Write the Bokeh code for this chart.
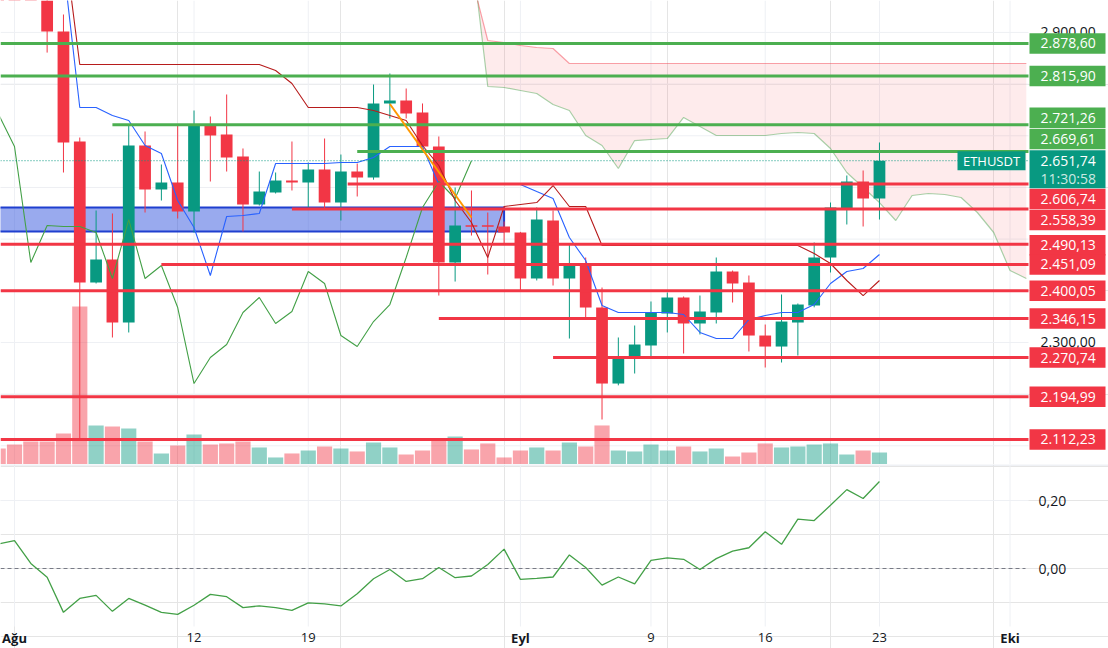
import pandas as pd
from bokeh.plotting import figure
from bokeh.layouts import column
from bokeh.models import ColumnDataSource, Range1d
from bokeh.core.properties import value
from bokeh.embed import file_html
from bokeh.resources import INLINE

# ------------------------------------------------------------------ data
dates = pd.date_range("2024-07-31", "2024-09-23", freq="D")

open_ = [3280.0, 3232.0, 3203.0, 2988.0, 2901.8, 2688.9, 2416.0, 2460.5, 2338.6, 2681.2,
         2596.0, 2609.6, 2553.4, 2721.8, 2702.5, 2659.9, 2567.0, 2590.2, 2613.4, 2609.6,
         2634.7, 2570.8, 2630.8, 2619.2, 2762.5, 2768.3, 2745.0, 2679.2, 2454.7, 2526.3,
         2526.3, 2524.4, 2512.8, 2423.8, 2536.0, 2423.8, 2448.9, 2367.6, 2220.5, 2270.9,
         2294.1, 2356.0, 2387.0, 2336.7, 2358.0, 2437.3, 2416.0, 2313.4, 2292.1, 2338.6,
         2371.5, 2464.4, 2559.2, 2611.5, 2578.6]
high = [3350.0, 3248.0, 3218.0, 3018.0, 2934.7, 2696.6, 2555.4, 2549.6, 2721.8, 2708.3,
        2644.4, 2721.8, 2748.9, 2737.3, 2779.9, 2675.4, 2630.8, 2628.9, 2688.9, 2648.3,
        2694.7, 2663.7, 2646.3, 2799.2, 2820.5, 2791.5, 2762.5, 2698.6, 2599.9, 2594.1,
        2551.5, 2534.1, 2514.0, 2561.2, 2555.4, 2491.5, 2464.4, 2406.3, 2309.6, 2332.8,
        2379.3, 2396.7, 2389.0, 2390.8, 2464.4, 2439.2, 2429.6, 2334.7, 2392.8, 2375.4,
        2493.4, 2570.8, 2623.1, 2632.8, 2687.0]
low = [3226.0, 3086.0, 2970.0, 2861.0, 2628.9, 2110.2, 2414.1, 2309.6, 2319.3, 2551.5,
       2574.7, 2539.9, 2512.8, 2611.5, 2630.8, 2514.7, 2565.0, 2588.3, 2594.1, 2561.2,
       2559.2, 2536.0, 2582.5, 2615.0, 2733.4, 2733.4, 2677.3, 2390.8, 2417.9, 2506.9,
       2431.5, 2491.5, 2400.5, 2420.0, 2410.2, 2307.6, 2346.3, 2150.9, 2217.0, 2239.9,
       2270.9, 2319.3, 2278.6, 2315.4, 2336.7, 2377.3, 2282.5, 2251.5, 2261.2, 2274.7,
       2368.0, 2435.4, 2528.3, 2524.4, 2537.9]
close = [3232.0, 3203.0, 2988.0, 2901.8, 2687.0, 2416.0, 2460.5, 2338.6, 2681.2, 2596.0,
         2609.6, 2553.4, 2721.8, 2700.5, 2657.9, 2567.0, 2592.1, 2613.4, 2609.6, 2634.7,
         2570.8, 2630.8, 2619.2, 2762.5, 2768.3, 2743.1, 2679.2, 2454.7, 2526.3, 2524.4,
         2524.4, 2512.8, 2423.8, 2537.9, 2423.8, 2448.9, 2367.6, 2220.5, 2270.9, 2296.0,
         2358.0, 2387.0, 2336.7, 2359.9, 2437.3, 2414.1, 2313.4, 2292.1, 2340.5, 2373.4,
         2464.4, 2561.2, 2611.5, 2578.6, 2651.74]
volume = [232, 290, 334, 334, 450, 2291, 566, 551, 522, 334,
          160, 276, 435, 290, 305, 334, 247, 102, 160, 203,
          261, 232, 189, 319, 247, 145, 203, 377, 406, 218,
          305, 102, 203, 247, 203, 319, 261, 566, 203, 189,
          290, 203, 261, 189, 232, 116, 174, 305, 247, 261,
          290, 305, 145, 203, 174]
oscillator = [0.072, 0.082, 0.015, -0.026, -0.129, -0.088, -0.079, -0.126, -0.088, -0.108,
              -0.129, -0.135, -0.108, -0.076, -0.083, -0.115, -0.110, -0.115, -0.123, -0.101,
              -0.104, -0.110, -0.074, -0.030, -0.003, -0.038, -0.030, 0.003, -0.027, -0.022,
              0.012, 0.057, -0.032, -0.029, -0.025, 0.040, 0.003, -0.049, -0.025, -0.045,
              0.024, 0.031, 0.027, -0.003, 0.029, 0.051, 0.061, 0.108, 0.071, 0.145,
              0.141, 0.186, 0.232, 0.206, 0.256]

# Ichimoku lines
line_dates = pd.date_range("2024-08-04", "2024-09-23", freq="D")
tenkan = [3030.9, 2754.7, 2754.7, 2739.2, 2729.6, 2681.2, 2665.7, 2574.7, 2522.5, 2429.6,
          2543.8, 2545.7, 2549.6, 2646.3, 2646.3, 2646.3, 2646.3, 2648.3, 2648.3, 2657.9,
          2679.2, 2679.2, 2679.2, 2605.7, 2605.7, 2605.7, 2605.7, 2605.7, 2605.7, 2592.1,
          2578.6, 2503.1, 2458.6, 2371.5, 2357.9, 2357.9, 2357.9, 2357.9, 2354.1, 2319.3,
          2307.6, 2307.6, 2344.4, 2352.1, 2357.9, 2357.9, 2373.4, 2414.1, 2437.3, 2443.1,
          2470.2]
kijun = [3085.7, 2838.0, 2838.0, 2838.0, 2838.0, 2838.0, 2838.0, 2838.0, 2838.0, 2838.0,
         2838.0, 2838.0, 2838.0, 2826.3, 2801.2, 2754.7, 2754.7, 2754.7, 2754.7, 2748.9,
         2739.2, 2729.6, 2681.2, 2642.5, 2574.7, 2532.1, 2464.4, 2563.1, 2567.0, 2570.8,
         2603.7, 2563.1, 2563.1, 2487.6, 2487.6, 2487.6, 2487.6, 2487.6, 2487.6, 2487.6,
         2487.6, 2487.6, 2487.6, 2487.6, 2487.6, 2487.6, 2472.1, 2452.8, 2419.9, 2390.8,
         2419.9]
chikou_dates = pd.date_range("2024-07-31", "2024-08-29", freq="D")
chikou = [2743.1, 2679.2, 2454.7, 2526.3, 2524.4, 2524.4, 2512.8, 2423.8, 2537.9, 2423.8,
          2448.9, 2367.6, 2220.5, 2270.9, 2296.0, 2358.0, 2387.0, 2336.7, 2359.9, 2437.3,
          2414.1, 2313.4, 2292.1, 2340.5, 2373.4, 2464.4, 2561.2, 2611.5, 2578.6, 2651.74]
cloud_dates = pd.date_range("2024-08-29", "2024-10-02", freq="D")
senkou_a = [3062.4, 2795.4, 2793.4, 2787.6, 2781.8, 2760.5, 2748.9, 2700.5, 2681.2, 2636.7,
            2690.8, 2692.8, 2694.7, 2735.4, 2718.0, 2700.5, 2700.5, 2700.5, 2700.5, 2704.4,
            2706.3, 2704.4, 2675.4, 2628.9, 2599.9, 2570.8, 2536.0, 2584.4, 2588.3, 2586.3,
            2580.5, 2551.5, 2512.8, 2439.2, 2423.8]
senkou_b = [3008.2, 2884.4, 2880.5, 2874.7, 2870.8, 2868.9, 2839.9, 2839.9, 2839.9, 2839.9,
            2839.9, 2839.9, 2839.9, 2839.9, 2839.9, 2839.9, 2839.9, 2839.9, 2839.9, 2839.9,
            2839.9, 2839.9, 2839.9, 2839.9, 2839.9, 2839.9, 2839.9, 2839.9, 2839.9, 2839.9,
            2839.9, 2839.9, 2839.9, 2839.9, 2839.9]

# Drawn levels (price, start date; None = from the left edge)
green_levels = [2878.60, 2815.90, 2721.26, 2669.61]
green_starts = [None, None, "2024-08-07", "2024-08-22"]
red_levels = [2606.74, 2558.39, 2490.13, 2451.09, 2400.05, 2346.15, 2270.74, 2194.99, 2112.23]
red_starts = ["2024-08-21 10:00", "2024-08-18", None, "2024-08-10", None, "2024-08-27",
              "2024-09-03", None, None]
zone_top, zone_bottom, zone_end = 2561.2, 2514.7, "2024-08-31"
trend_dates = ["2024-08-24", "2024-08-29"]
trend_prices = [2761.5, 2541.8]
symbol = "ETHUSDT"
countdown = "11:30:58"

price_ticks = [2100, 2200, 2300, 2400, 2500, 2600, 2700, 2800, 2900]
price_tick_labels_shown = [2300, 2900]
osc_ticks = [0.0, 0.2]
tick_dates = ["2024-08-01", "2024-08-12", "2024-08-19", "2024-09-01", "2024-09-09",
              "2024-09-16", "2024-09-23", "2024-10-01"]
tick_labels = ["Ağu", "12", "19", "Eyl", "9", "16", "23", "Eki"]
tick_is_month = [True, False, False, True, False, False, False, True]

# ------------------------------------------------------------------ layout constants
W, H1, H2 = 1108, 464, 184
PX_PER_DAY, X_BASE_PX = 16.32, 14.0
PANE_RIGHT_PX = 1028
PRICE_TOP, PRICE_BOT = 2961.8, 2063.8
PPU = (PRICE_TOP - PRICE_BOT) / H1          # price units per pixel
VOL_FRACTION = 158 / 464
OSC_ZERO_PX, OSC_PX_PER_UNIT = 104, 340
LABEL_SHIFT_PX = {2721.26: -7, 2669.61: -12.5, 2606.74: 15, 2558.39: 11, 2490.13: 1}
UP, DOWN = "#089981", "#f23645"
GREEN_LVL = "#4caf50"
TXT = "#131722"
GRID = "#eef0f4"
FONT = value("Open Sans")

BASE = pd.Timestamp("2024-08-01")


def dx(d):
    return (pd.Timestamp(d) - BASE) / pd.Timedelta(days=1)


def px_x(px):
    return (px - X_BASE_PX) / PX_PER_DAY


def tr(v, nd=2):
    s = f"{v:,.{nd}f}"
    return s.replace(",", "X").replace(".", ",").replace("X", ".")


X0, X1 = px_x(0), px_x(W)
PANE_END = px_x(PANE_RIGHT_PX)
xs = [dx(d) for d in dates]
tick_x = [dx(d) for d in tick_dates]

# ------------------------------------------------------------------ main pane
p = figure(width=W, height=H1, x_range=Range1d(X0, X1), y_range=Range1d(PRICE_BOT, PRICE_TOP),
           x_axis_location=None, y_axis_location=None, toolbar_location=None,
           output_backend="svg", min_border=0, outline_line_color=None,
           background_fill_color="white", border_fill_color="white")

p.segment(x0=X0, x1=PANE_END, y0=price_ticks, y1=price_ticks, line_color=GRID, line_width=1)
p.segment(x0=tick_x, x1=tick_x, y0=PRICE_BOT, y1=PRICE_TOP, line_color=GRID, line_width=1)

# cloud (kept inside the pane, left of the price scale)
cx = [dx(d) for d in cloud_dates]
p.varea(x=cx, y1=senkou_a, y2=senkou_b, fill_color=DOWN, fill_alpha=0.1)
p.line(cx, senkou_a, line_color="#43a047", line_alpha=0.45, line_width=1.2)
p.line(cx, senkou_b, line_color=DOWN, line_alpha=0.45, line_width=1.2)

# zone rectangle
p.quad(left=X0 - 3, right=dx(zone_end), top=zone_top, bottom=zone_bottom,
       fill_color="#3355dd", fill_alpha=0.5, line_color="#1f3fcf", line_width=2)

# volume
p.extra_y_ranges = {"vol": Range1d(0, max(volume) / VOL_FRACTION)}
up = [c >= o for o, c in zip(open_, close)]
colors = [UP if u else DOWN for u in up]
p.vbar(x=xs, top=volume, bottom=0, width=0.93, y_range_name="vol",
       fill_color=colors, fill_alpha=0.45, line_color=None)

# candles
min_body = 1.5 * PPU
btop, bbot = [], []
for o, c in zip(open_, close):
    t, b = max(o, c), min(o, c)
    if t - b < min_body:
        m = (t + b) / 2
        t, b = m + min_body / 2, m - min_body / 2
    btop.append(t)
    bbot.append(b)
p.segment(x0=xs, x1=xs, y0=low, y1=high, line_color=colors, line_width=1)
p.vbar(x=xs, top=btop, bottom=bbot, width=0.72, fill_color=colors, line_color=None)

# ichimoku lines
lx = [dx(d) for d in line_dates]
p.line([dx(d) for d in chikou_dates], chikou, line_color="#43a047", line_width=1.1)
p.line(lx, tenkan, line_color="#2962ff", line_width=1.1)
p.line(lx, kijun, line_color="#b71c1c", line_width=1.1)

# horizontal levels
gx0 = [X0 if s is None else dx(s) for s in green_starts]
p.segment(x0=gx0, x1=PANE_END, y0=green_levels, y1=green_levels, line_color=GREEN_LVL, line_width=3)
rx0 = [X0 if s is None else dx(s) for s in red_starts]
p.segment(x0=rx0, x1=PANE_END, y0=red_levels, y1=red_levels, line_color=DOWN, line_width=3)

# trend line
p.line([dx(d) for d in trend_dates], trend_prices, line_color="#ff9800", line_width=2)

# last price line + symbol tag
last = close[-1]
p.segment(x0=X0, x1=PANE_END, y0=last, y1=last, line_color=UP, line_dash="1 2", line_width=1)
p.quad(left=px_x(957), right=px_x(1025), top=last + 9.5 * PPU, bottom=last - 9.5 * PPU,
       fill_color=UP, line_color=None)
p.text(x=[px_x(991)], y=[last], text=[symbol], text_color="white", text_font=FONT,
       text_font_size="13px", text_align="center", text_baseline="middle")

# price scale labels
lb_left, lb_right, lb_text = px_x(1029), px_x(1105), px_x(1040)
p.text(x=lb_text, y=price_tick_labels_shown, text=[tr(v) for v in price_tick_labels_shown],
       text_color=TXT, text_font=FONT, text_font_size="14px", text_baseline="middle")

lv = green_levels + red_levels
lc = [GREEN_LVL] * len(green_levels) + [DOWN] * len(red_levels)
ly = [v - LABEL_SHIFT_PX.get(v, 0) * PPU for v in lv]
p.quad(left=lb_left, right=lb_right, top=[y + 10.25 * PPU for y in ly],
       bottom=[y - 10.25 * PPU for y in ly], fill_color=lc, line_color=None)
p.text(x=lb_text, y=ly, text=[tr(v) for v in lv], text_color="white", text_font=FONT,
       text_font_size="14px", text_baseline="middle")

p.quad(left=lb_left, right=lb_right, top=last + 10.5 * PPU, bottom=last - 27.5 * PPU,
       fill_color=UP, line_color=None)
p.text(x=lb_text, y=[last - 0.5 * PPU], text=[tr(last)], text_color="white", text_font=FONT,
       text_font_size="14px", text_baseline="middle")
p.text(x=lb_text, y=[last - 17.5 * PPU], text=[countdown], text_color="white", text_alpha=0.8,
       text_font=FONT, text_font_size="14px", text_baseline="middle")

# ------------------------------------------------------------------ oscillator pane
OSC_TOP = OSC_ZERO_PX / OSC_PX_PER_UNIT
OSC_BOT = -(H2 - OSC_ZERO_PX) / OSC_PX_PER_UNIT


def oy(px_from_top):
    return (OSC_ZERO_PX - px_from_top) / OSC_PX_PER_UNIT


q = figure(width=W, height=H2, x_range=p.x_range, y_range=Range1d(OSC_BOT, OSC_TOP),
           x_axis_location=None, y_axis_location=None, toolbar_location=None,
           output_backend="svg", min_border=0, outline_line_color=None,
           background_fill_color="white", border_fill_color="white")

q.segment(x0=X0, x1=X1, y0=oy(0.5), y1=oy(0.5), line_color="#e0e3eb", line_width=1)
q.segment(x0=tick_x, x1=tick_x, y0=oy(1), y1=oy(162), line_color=GRID, line_width=1)
q.segment(x0=X0, x1=PANE_END, y0=[osc_ticks[1]], y1=[osc_ticks[1]], line_color=GRID, line_width=1)
q.segment(x0=X0, x1=px_x(1025), y0=[osc_ticks[0]], y1=[osc_ticks[0]], line_color="#787b86",
          line_dash="4 3", line_width=1)
q.line(xs, oscillator, line_color="#43a047", line_width=1.3)

q.text(x=px_x(1038), y=osc_ticks, text=[tr(v) for v in osc_ticks], text_color=TXT,
       text_font=FONT, text_font_size="14px", text_baseline="middle")

date_src = ColumnDataSource(dict(x=tick_x, y=[oy(173)] * len(tick_x), text=tick_labels,
                                 style=["bold" if m else "normal" for m in tick_is_month]))
q.text(x="x", y="y", text="text", source=date_src, text_color=TXT, text_font=FONT,
       text_font_size="13px", text_font_style="style", text_align="center",
       text_baseline="middle")

layout = column(p, q, spacing=0)
open("out.html", "w").write(file_html(layout, INLINE))
